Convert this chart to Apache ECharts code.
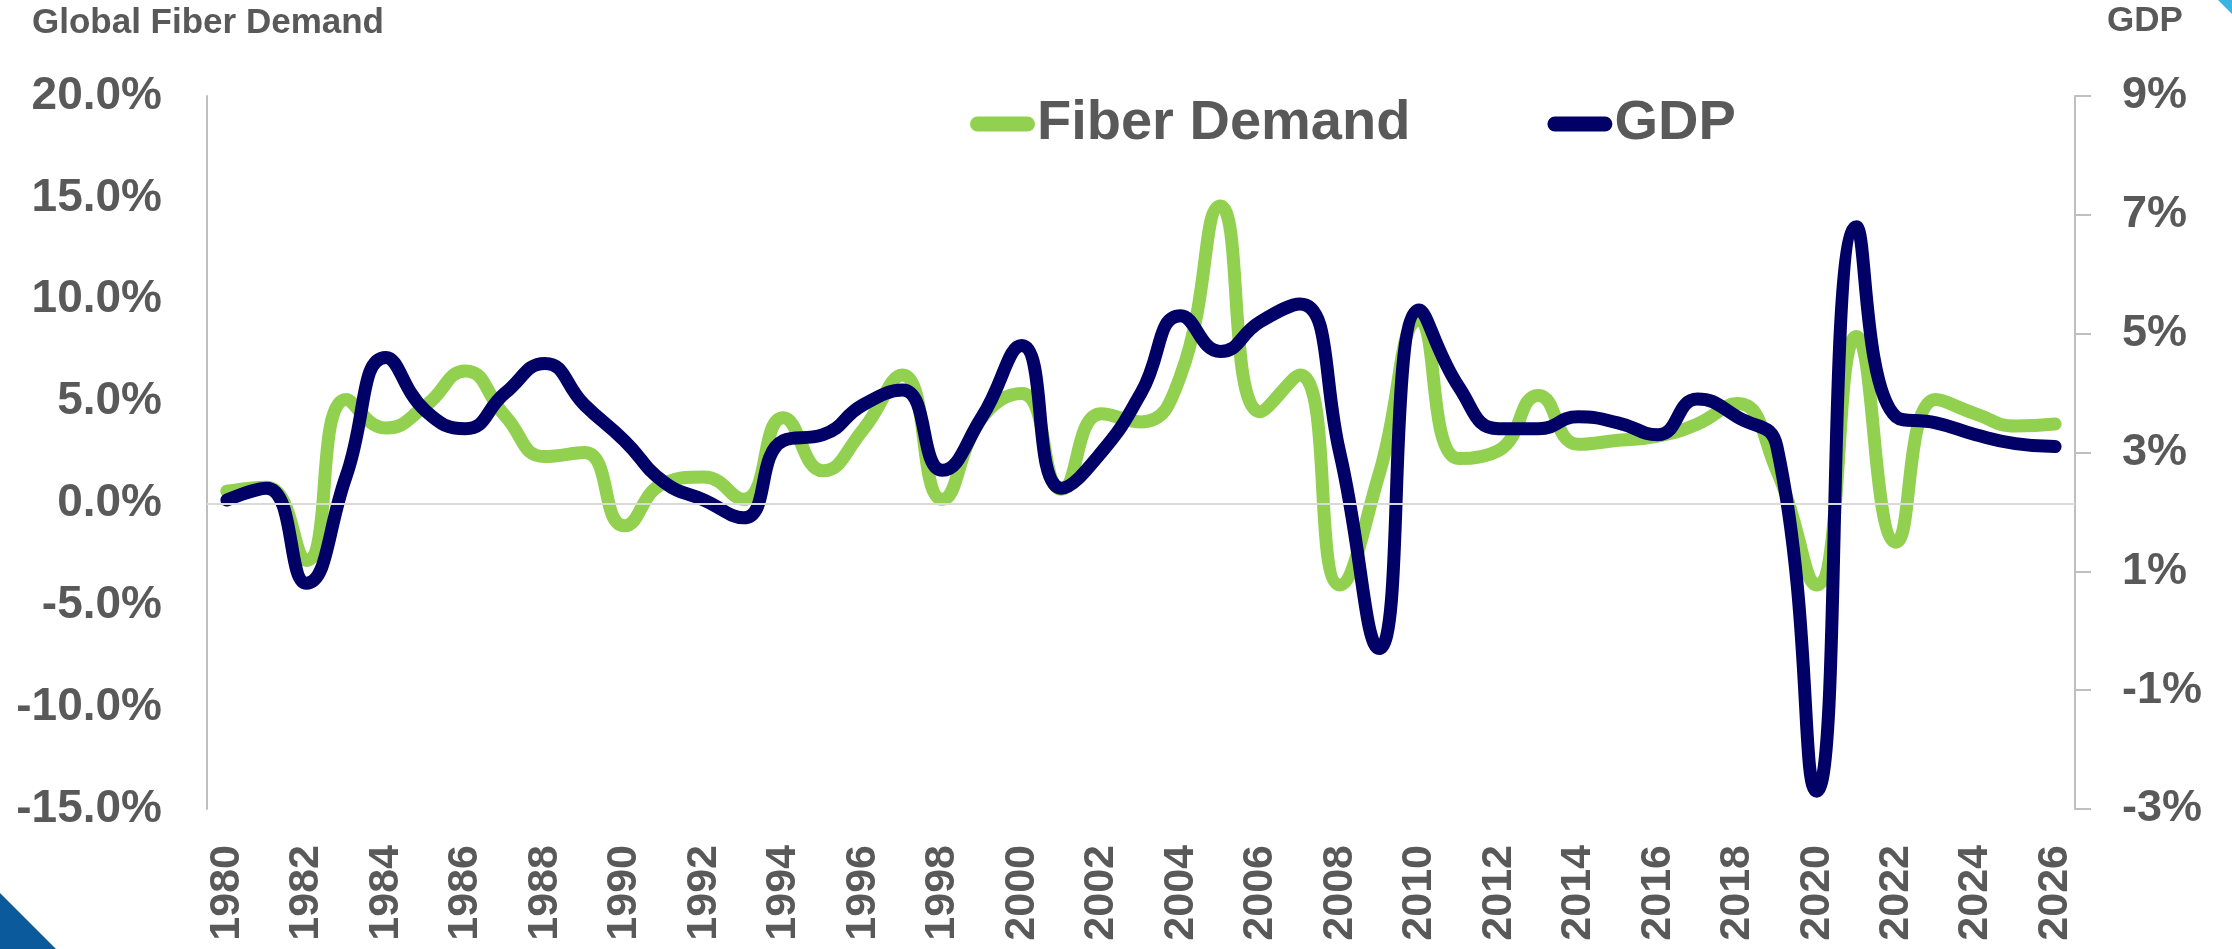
<!DOCTYPE html>
<html>
<head>
<meta charset="utf-8">
<script src="https://cdn.jsdelivr.net/npm/echarts@6/dist/echarts.min.js"></script>
<style>
  html, body { margin: 0; padding: 0; background: #fff; }
  #chart { width: 2232px; height: 949px; }
</style>
</head>
<body>
<div id="chart"></div>
<script>
// years on the category axis
const years = []
for (let y = 1980; y <= 2026; y++) years.push(String(y))

// global fiber demand growth, %
const fiberDemand = [
  0.6, 0.8, -2.8, 5.1, 3.7, 4.8, 6.5, 4.3, 2.3, 2.5,
  -1.1, 1.0, 1.3, 0.2, 4.2, 1.6, 3.6, 6.3, 0.2, 4.2,
  5.4, 0.7, 4.4, 4.0, 6.3, 14.6, 4.5, 6.3, -4.0, 1.5,
  9.0, 2.2, 2.6, 5.3, 2.9, 3.1, 3.3, 3.9, 4.9, 1.6,
  -4.0, 8.2, -1.9, 5.1, 4.4, 3.8, 3.9
]

// world GDP growth, %
const gdp = [
  2.2, 2.4, 0.8, 2.6, 4.6, 3.7, 3.4, 4.0, 4.5, 3.8,
  3.2, 2.5, 2.2, 1.9, 3.2, 3.3, 3.8, 4.05, 2.7, 3.6,
  4.8, 2.4, 3.0, 4.0, 5.3, 4.7, 5.2, 5.5, 3.0, -0.3,
  5.4, 4.1, 3.4, 3.4, 3.6, 3.5, 3.3, 3.9, 3.6, 3.1,
  -2.7, 6.8, 3.6, 3.5, 3.3, 3.15, 3.1
]

// right axis tick values
const gdpTicks = [-3, -1, 1, 3, 5, 7, 9]

const textColor = '#595959'
const font = 'Liberation Sans, Arial, sans-serif'

let chart = echarts.init(document.getElementById('chart'))
chart.setOption({
  animation: false,
  textStyle: { fontFamily: font },
  title: [
    {
      text: 'Global Fiber Demand',
      left: 32, top: 6, padding: 0,
      textStyle: { color: textColor, fontSize: 35, fontWeight: 'bold', fontFamily: font }
    },
    {
      text: 'GDP',
      left: 2107, top: 4, padding: 0,
      textStyle: { color: textColor, fontSize: 35, fontWeight: 'bold', fontFamily: font }
    }
  ],
  legend: {
    data: ['Fiber Demand', 'GDP'],
    left: 970,
    top: 96,
    padding: 0,
    itemWidth: 65,
    itemHeight: 15,
    itemGap: 137,
    icon: 'path://M7.5,0L57.5,0A7.5,7.5,0,0,1,57.5,15L7.5,15A7.5,7.5,0,0,1,7.5,0Z',
    textStyle: { color: textColor, fontSize: 56, fontWeight: 'bold', fontFamily: font, padding: [0, 0, 0, -3] }
  },
  grid: {
    left: 207,
    right: 157,
    top: 96,
    bottom: 140,
    containLabel: false
  },
  xAxis: {
    type: 'category',
    data: years,
    boundaryGap: true,
    axisLine: { show: false },
    axisTick: { show: false },
    axisLabel: {
      interval: 1,
      rotate: 90,
      margin: 36,
      color: textColor,
      fontSize: 43,
      fontWeight: 'bold'
    }
  },
  yAxis: [
    {
      type: 'value',
      min: -15,
      max: 20,
      interval: 5,
      splitLine: { show: false },
      axisTick: { show: false },
      axisLine: { show: true, lineStyle: { color: '#bfbfbf', width: 2 } },
      axisLabel: {
        margin: 45,
        color: textColor,
        fontSize: 46,
        fontWeight: 'bold',
        formatter: v => v.toFixed(1) + '%'
      }
    },
    {
      type: 'value',
      min: -3,
      max: 9,
      position: 'right',
      splitLine: { show: false },
      axisLine: { show: true, lineStyle: { color: '#bfbfbf', width: 2 } },
      axisTick: {
        show: true,
        length: 16,
        customValues: gdpTicks,
        lineStyle: { color: '#bfbfbf', width: 2 }
      },
      axisLabel: {
        margin: 47,
        color: textColor,
        fontSize: 45,
        fontWeight: 'bold',
        customValues: gdpTicks,
        formatter: v => v + '%'
      }
    }
  ],
  series: [
    {
      name: 'Fiber Demand',
      type: 'line',
      data: fiberDemand,
      yAxisIndex: 0,
      smooth: true,
      showSymbol: false,
      symbol: 'none',
      color: '#92d050',
      lineStyle: { width: 13, color: '#92d050', cap: 'round', join: 'round' },
      markLine: {
        silent: true,
        symbol: 'none',
        label: { show: false },
        lineStyle: { color: '#d9d9d9', width: 2, type: 'solid' },
        data: [{ yAxis: 0 }]
      },
      z: 2
    },
    {
      name: 'GDP',
      type: 'line',
      data: gdp,
      yAxisIndex: 1,
      smooth: true,
      showSymbol: false,
      symbol: 'none',
      color: '#000066',
      lineStyle: { width: 13, color: '#000066', cap: 'round', join: 'round' },
      z: 3
    }
  ],
  graphic: [
    {
      type: 'polygon',
      shape: { points: [[0, 893], [0, 949], [56, 949]] },
      style: { fill: '#0a5a9c' }
    },
    {
      type: 'polygon',
      shape: { points: [[2218, 0], [2232, 0], [2232, 14]] },
      style: { fill: '#3ab4e2' }
    }
  ]
})
</script>
</body>
</html>
